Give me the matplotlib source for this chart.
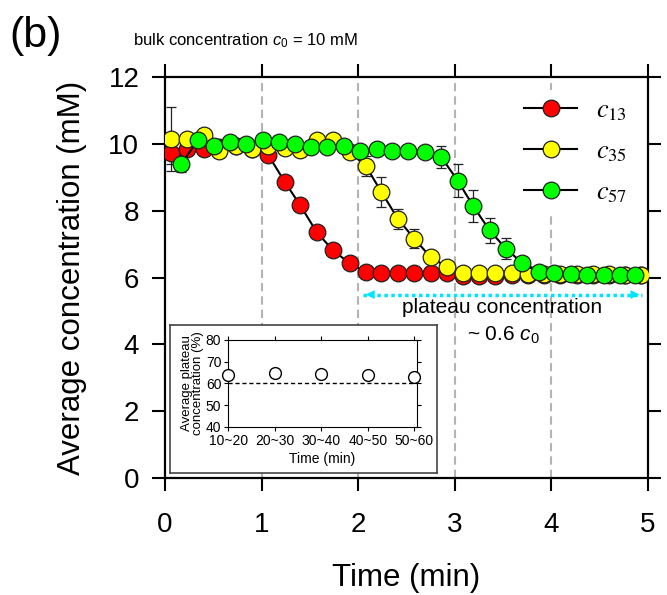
import matplotlib
matplotlib.use("Agg")
import matplotlib.pyplot as plt
from matplotlib.font_manager import FontProperties


# main panel data (time in min, concentration in mM)
TIME_RY = [0.06, 0.23, 0.40, 0.56, 0.73, 0.90, 1.07, 1.24, 1.40, 1.57,
           1.74, 1.91, 2.08, 2.24, 2.41, 2.58, 2.75, 2.92, 3.08, 3.25,
           3.42, 3.59, 3.76, 3.92, 4.09, 4.26, 4.43, 4.60, 4.76, 4.93]
TIME_G = [0.17, 0.34, 0.51, 0.67, 0.84, 1.01, 1.18, 1.35, 1.51, 1.68,
          1.85, 2.02, 2.19, 2.35, 2.52, 2.69, 2.86, 3.03, 3.19, 3.36,
          3.53, 3.70, 3.87, 4.03, 4.20, 4.37, 4.54, 4.71, 4.87]

C13 = [9.74, 9.86, 9.86, 9.90, 9.95, 9.86, 9.66, 8.86, 8.16, 7.36,
       6.81, 6.43, 6.16, 6.13, 6.12, 6.12, 6.12, 6.12, 6.05, 6.06,
       6.06, 6.07, 6.07, 6.07, 6.07, 6.07, 6.07, 6.07, 6.07, 6.07]
C13_ERR = [0.35, 0.20, 0.10, 0.05, 0.05, 0.05, 0.08, 0.10, 0.10, 0.10,
           0.08, 0.05, 0.05, 0.05, 0.05, 0.05, 0.05, 0.05, 0.05, 0.05,
           0.05, 0.05, 0.05, 0.05, 0.05, 0.05, 0.05, 0.05, 0.05, 0.05]

C35 = [10.15, 10.15, 10.25, 9.80, 9.95, 9.86, 9.93, 9.89, 9.83, 10.10,
       10.10, 9.76, 9.33, 8.56, 7.76, 7.16, 6.61, 6.31, 6.12, 6.12,
       6.12, 6.12, 6.10, 6.10, 6.10, 6.10, 6.10, 6.10, 6.08, 6.08]
C35_ERR = [0.95, 0.10, 0.20, 0.05, 0.05, 0.05, 0.05, 0.05, 0.05, 0.05,
           0.05, 0.08, 0.30, 0.45, 0.30, 0.29, 0.15, 0.08, 0.05, 0.05,
           0.05, 0.05, 0.05, 0.05, 0.05, 0.05, 0.05, 0.05, 0.05, 0.05]

C57 = [9.41, 10.10, 9.95, 10.05, 10.00, 10.12, 10.05, 10.00, 9.92, 9.90,
       9.95, 9.80, 9.85, 9.78, 9.78, 9.76, 9.60, 8.90, 8.14, 7.41,
       6.86, 6.43, 6.15, 6.12, 6.10, 6.08, 6.08, 6.07, 6.07]
C57_ERR = [0.25, 0.05, 0.05, 0.05, 0.05, 0.05, 0.05, 0.05, 0.05, 0.05,
           0.05, 0.05, 0.05, 0.05, 0.05, 0.08, 0.33, 0.49, 0.47, 0.38,
           0.31, 0.12, 0.05, 0.05, 0.05, 0.05, 0.05, 0.05, 0.05]

SERIES_LABELS = [r"$c_{13}$", r"$c_{35}$", r"$c_{57}$"]
SERIES_COLORS = ["#ff0000", "#ffff00", "#00ff00"]

GUIDE_TIMES = [1, 2, 3, 4]
PLATEAU_SPAN = [2.05, 4.94]
PLATEAU_Y = 5.49

# inset data
INSET_CATS = ["10~20", "20~30", "30~40", "40~50", "50~60"]
INSET_VALS = [63.8, 64.6, 64.3, 63.8, 63.1]
INSET_REF = 60


def main():
    plt.rcParams["font.family"] = ["Liberation Sans", "DejaVu Sans"]
    plt.rcParams["mathtext.fontset"] = "custom"
    plt.rcParams["mathtext.rm"] = "Liberation Sans"
    plt.rcParams["mathtext.it"] = "Liberation Sans:italic"

    fig = plt.figure(figsize=(6.67, 5.95), dpi=100)
    fig.patch.set_facecolor("white")
    ax = fig.add_axes([0.2474, 0.1966, 0.7241, 0.6740])

    for t in GUIDE_TIMES:
        ax.axvline(t, color="#b4b4b4", lw=1.5, ls=(0, (4, 2.4)), zorder=1)

    series = [
        (TIME_RY, C13, C13_ERR),
        (TIME_RY, C35, C35_ERR),
        (TIME_G, C57, C57_ERR),
    ]
    handles = []
    for (t, c, e), col in zip(series, SERIES_COLORS):
        ax.errorbar(t, c, yerr=e, fmt="none", ecolor="#222222", elinewidth=0.9,
                    capsize=3.5, capthick=0.9, zorder=2)
        h, = ax.plot(t, c, "-o", color="black", lw=1.5, ms=12,
                     mfc=col, mec="#202020", mew=0.9, zorder=3)
        handles.append(h)

    leg = ax.legend(handles, SERIES_LABELS, loc="upper right",
                    bbox_to_anchor=(1.0, 1.0), frameon=True,
                    prop=FontProperties(size=19, math_fontfamily="stix"),
                    handlelength=2.0, handletextpad=0.7, labelspacing=0.62,
                    borderpad=0.3)
    leg.get_frame().set_facecolor("white")
    leg.get_frame().set_edgecolor("none")
    leg.get_frame().set_alpha(1)
    leg.set_zorder(4)

    # plateau arrow
    cyan = "#00e5ff"
    ax.plot(PLATEAU_SPAN, [PLATEAU_Y, PLATEAU_Y], color=cyan, lw=2.5,
            ls=(0, (1, 1)), zorder=5)
    for tip, tail in [(PLATEAU_SPAN[0], PLATEAU_SPAN[0] + 0.15),
                      (PLATEAU_SPAN[1], PLATEAU_SPAN[1] - 0.15)]:
        ax.annotate("", xy=(tip, PLATEAU_Y), xytext=(tail, PLATEAU_Y),
                    arrowprops=dict(arrowstyle="-|>", color=cyan, lw=0,
                                    mutation_scale=16), zorder=5)
    ax.text(3.49, 5.1, "plateau concentration", ha="center", va="center",
            fontsize=15, zorder=5)
    ax.text(3.5, 4.27, r"~ 0.6 $c_0$", ha="center", va="center",
            fontsize=15, zorder=5)

    ax.set_xlim(0, 5)
    ax.set_ylim(0, 12)
    ax.set_xticks([0, 1, 2, 3, 4, 5])
    ax.set_yticks([0, 2, 4, 6, 8, 10, 12])
    ax.tick_params(axis="both", direction="out", length=9.5, width=1.5,
                   labelsize=20, top=True, right=True)
    ax.tick_params(axis="x", pad=15)
    ax.tick_params(axis="y", pad=9)
    for s in ax.spines.values():
        s.set_linewidth(1.6)
    ax.set_xlabel("Time (min)", fontsize=22.5, labelpad=18)
    ax.set_ylabel("Average concentration (mM)", fontsize=22.5, labelpad=15)

    fig.text(9 / 667, 1 - 36 / 595, "(b)", fontsize=31, va="center", ha="left")
    fig.text(246 / 667, 1 - 41 / 595, r"bulk concentration $c_0$ = 10 mM",
             fontsize=12, va="center", ha="center")

    # inset frame
    box = fig.add_axes([0.2549, 0.2045, 0.4007, 0.2492])
    box.set_xticks([])
    box.set_yticks([])
    box.set_facecolor("white")
    for s in box.spines.values():
        s.set_color("#444444")
        s.set_linewidth(1.2)
    box.set_zorder(6)

    ins = fig.add_axes([0.3423, 0.2829, 0.2825, 0.1457])
    ins.set_zorder(7)
    ins.set_facecolor("white")
    xpos = list(range(len(INSET_CATS)))
    ins.axhline(INSET_REF, color="black", lw=1.0, ls=(0, (3, 2)))
    ins.plot(xpos, INSET_VALS, "o", ms=8.5, mfc="white", mec="black", mew=1.0,
             clip_on=False, zorder=3)
    ins.set_xlim(0, 4.05)
    ins.set_ylim(40, 80)
    ins.set_xticks(xpos)
    ins.set_xticklabels(INSET_CATS)
    ins.set_yticks([40, 50, 60, 70, 80])
    ins.tick_params(direction="out", length=3, width=0.8, labelsize=10,
                    top=True, right=True, pad=2)
    for s in ins.spines.values():
        s.set_linewidth(0.8)
    ins.set_xlabel("Time (min)", fontsize=10, labelpad=3)
    ins.set_ylabel("Average plateau\nconcentration (%)", fontsize=9.5,
                   labelpad=1, linespacing=0.95)

    fig.savefig("out.png", dpi=100)
    plt.close(fig)


if __name__ == "__main__":
    main()
